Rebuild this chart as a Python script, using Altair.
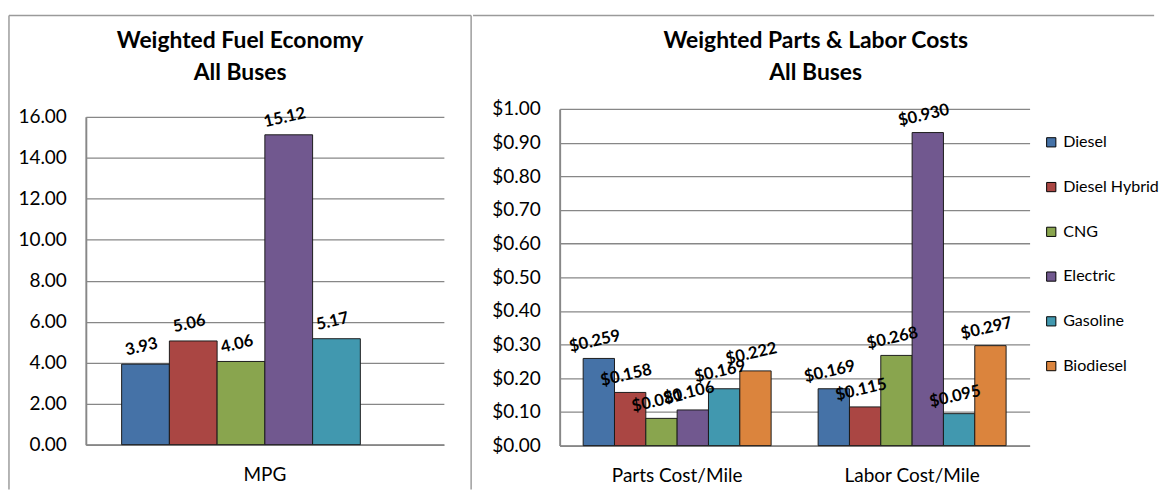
import altair as alt
import pandas as pd

FONT = "Lato"

fuels = ["Diesel", "Diesel Hybrid", "CNG", "Electric", "Gasoline", "Biodiesel"]
fuel_colors = ["#4572A7", "#AA4643", "#89A54E", "#71588F", "#4198AF", "#DB843D"]

mpg_category = ["MPG"]
mpg_fuels = ["Diesel", "Diesel Hybrid", "CNG", "Electric", "Gasoline"]
mpg_values = [3.93, 5.06, 4.06, 15.12, 5.17]
mpg_ticks = [0, 2, 4, 6, 8, 10, 12, 14, 16]

cost_categories = ["Parts Cost/Mile", "Labor Cost/Mile"]
parts_cost = [0.259, 0.158, 0.081, 0.106, 0.169, 0.222]
labor_cost = [0.169, 0.115, 0.268, 0.930, 0.095, 0.297]
cost_ticks = [0.0, 0.1, 0.2, 0.3, 0.4, 0.5, 0.6, 0.7, 0.8, 0.9, 1.0]

GRID = "#878787"
FRAME = "#9a9a9a"

df_mpg = pd.DataFrame({"cat": mpg_category * len(mpg_fuels), "fuel": mpg_fuels, "value": mpg_values})
df_cost = pd.DataFrame({
    "cat": [cost_categories[0]] * len(fuels) + [cost_categories[1]] * len(fuels),
    "fuel": fuels + fuels,
    "value": parts_cost + labor_cost,
})

color_scale = alt.Scale(domain=fuels, range=fuel_colors)
offset_scale = alt.Scale(domain=fuels, paddingInner=0, paddingOuter=0)


def y_axis(ticks, fmt):
    return alt.Axis(values=ticks, format=fmt, title=None, grid=True, gridColor=GRID, gridWidth=1.3,
                    domain=True, domainColor=GRID, domainWidth=2, ticks=False, tickSize=0,
                    labelFont=FONT, labelFontSize=19.5, labelColor="black", labelPadding=20)


def x_axis():
    return alt.Axis(title=None, labelAngle=0, grid=False, ticks=False, tickSize=0, domain=True,
                    domainColor=GRID, domainWidth=2, labelFont=FONT, labelFontSize=19.5,
                    labelColor="black", labelPadding=22)


def frame_rule(x, x2, y, y2):
    return alt.Chart(pd.DataFrame({"k": [0]})).mark_rule(color=FRAME, strokeWidth=1.5).encode(
        x=alt.value(x), x2=alt.value(x2), y=alt.value(y), y2=alt.value(y2))


def panel(df, cats, ymax, ticks, fmt, label_fmt, width, height, yrange, legend, title, frame):
    base = alt.Chart(df)
    x = alt.X("cat:N", sort=cats, scale=alt.Scale(domain=cats, paddingInner=0.2, paddingOuter=0.1), axis=x_axis())
    xo = alt.XOffset("fuel:N", sort=fuels, scale=offset_scale)
    y = alt.Y("value:Q", scale=alt.Scale(domain=[0, ymax], nice=False, range=yrange), axis=y_axis(ticks, fmt))
    bars = base.mark_bar(stroke="#1a1a1a", strokeWidth=1).encode(
        x=x, xOffset=xo, y=y,
        color=alt.Color("fuel:N", sort=fuels, scale=color_scale, legend=legend),
    )
    labels = base.mark_text(font=FONT, fontSize=17, fontWeight="bold", color="black",
                            angle=347, dy=-18, baseline="middle", align="center").encode(
        x=x, xOffset=xo, y=y, text=alt.Text("value:Q", format=label_fmt))
    return alt.layer(*frame, bars, labels).properties(
        width=width, height=height,
        title=alt.TitleParams(text=title, font=FONT, fontSize=23.5, fontWeight="bold", color="black",
                              lineHeight=32, anchor="middle", frame="bounds", offset=-71),
    )


left = panel(
    df_mpg, mpg_category, 16, mpg_ticks, ".2f", ".2f", 368, 345, [345, 8], None,
    ["Weighted Fuel Economy", "All Buses"],
    [frame_rule(-79, 396, -96, -96), frame_rule(-79, -79, -96, 391), frame_rule(396, 396, -96, 391)],
)

right_legend = alt.Legend(title=None, orient="none", legendX=497, legendY=26, symbolType="square",
                          symbolSize=90, symbolStrokeColor="black", symbolStrokeWidth=1,
                          symbolOpacity=1, labelFont=FONT, labelFontSize=16.5, labelColor="black",
                          rowPadding=29, padding=0, labelOffset=4)

right = panel(
    df_cost, cost_categories, 1.0, cost_ticks, "$.2f", "$.3f", 483, 346, [346, 0], right_legend,
    ["Weighted Parts & Labor Costs", "All Buses"],
    [frame_rule(-89, 611, -96, -96)],
)

chart = alt.hconcat(left, right, spacing=0).resolve_scale(
    x="independent", y="independent", color="independent", xOffset="independent"
).properties(padding=0).configure_view(stroke=None)

chart.save("out.html", embed_options={"renderer": "svg", "actions": False})
